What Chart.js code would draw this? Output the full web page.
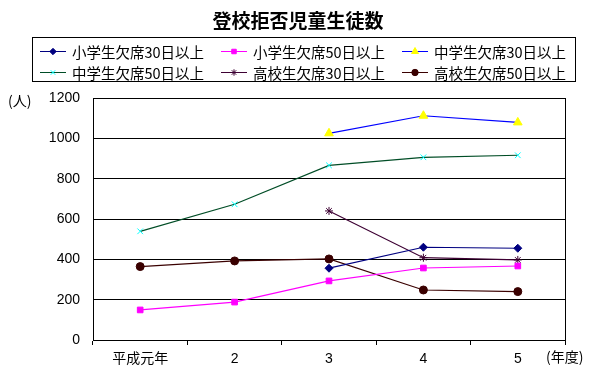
<!DOCTYPE html>
<html>
<head>
<meta charset="utf-8">
<script src="https://cdn.jsdelivr.net/npm/chart.js"></script>
<style>
  body { margin: 0; background: #fff; }
  #wrap { width: 596px; height: 374px; }
</style>
</head>
<body>
<div id="wrap"><canvas id="myChart" width="596" height="374"></canvas></div>
<script>
const labels = ['平成元年', '2', '3', '4', '5']
const yTicks = [0, 200, 400, 600, 800, 1000, 1200]

const elem30 = [null, null, 356, 460, 455]
const elem50 = [149, 188, 293, 357, 367]
const junior30 = [null, null, 1025, 1112, 1079]
const junior50 = [539, 673, 866, 906, 916]
const high30 = [null, null, 640, 408, 397]
const high50 = [364, 392, 402, 248, 240]

const font = "'Liberation Sans', 'Noto Sans CJK JP', sans-serif"
const jpFont = "'Noto Sans CJK JP', sans-serif"

const series = [
    {label: '小学生欠席30日以上', data: elem30, line: '#000080', fill: '#000080', style: 'rectRot', r: 4},
    {label: '小学生欠席50日以上', data: elem50, line: '#ff00ff', fill: '#ff00ff', style: 'rect', r: 4},
    {label: '中学生欠席30日以上', data: junior30, line: '#0000ff', fill: '#ffff00', style: 'triangle', r: 5},
    {label: '中学生欠席50日以上', data: junior50, line: '#004d26', fill: '#00ffff', style: 'crossRot', r: 4},
    {label: '高校生欠席30日以上', data: high30, line: '#3d0033', fill: '#3d0033', style: 'star', r: 4},
    {label: '高校生欠席50日以上', data: high50, line: '#3a0000', fill: '#3a0000', style: 'circle', r: 4},
]

// title, legend box and unit labels
const decor = {
    id: 'decor',
    afterDraw(chart) {
        const ctx = chart.ctx
        const area = chart.chartArea
        ctx.save()
        ctx.fillStyle = '#000'
        ctx.textBaseline = 'middle'
        ctx.textAlign = 'center'
        ctx.font = "bold 19px " + jpFont
        ctx.fillText('登校拒否児童生徒数', 298, 21)

        // right border of the plot
        ctx.strokeStyle = '#000'
        ctx.lineWidth = 1
        ctx.beginPath()
        ctx.moveTo(Math.round(area.right) + 0.5, area.top)
        ctx.lineTo(Math.round(area.right) + 0.5, area.bottom)
        ctx.stroke()

        // legend
        ctx.strokeRect(32.5, 37.5, 543, 44)
        ctx.font = "14.5px " + jpFont
        ctx.textAlign = 'left'
        series.forEach((s, i) => {
            const x = 40 + (i % 3) * 181
            const y = i < 3 ? 51 : 72
            ctx.strokeStyle = s.line
            ctx.lineWidth = 1
            ctx.beginPath()
            ctx.moveTo(x, y + 0.5)
            ctx.lineTo(x + 26, y + 0.5)
            ctx.stroke()
            ctx.fillStyle = s.fill
            ctx.strokeStyle = s.fill
            Chart.helpers.drawPoint(ctx, {pointStyle: s.style, radius: s.r * 0.8, borderWidth: 1}, x + 13, y + 0.5)
            ctx.fillStyle = '#000'
            ctx.fillText(s.label, x + 32, y + 1)
        })

        ctx.font = "14px " + jpFont
        ctx.fillText('(人)', 8, 101)
        ctx.fillText('(年度)', 546, 357)
        ctx.restore()
    }
}

new Chart(document.getElementById('myChart'), {
    type: 'line',
    data: {
        labels: labels,
        datasets: series.map(s => ({
            label: s.label,
            data: s.data,
            borderColor: s.line,
            borderWidth: 1.2,
            backgroundColor: s.fill,
            pointBackgroundColor: s.fill,
            pointBorderColor: s.fill,
            pointBorderWidth: 1,
            pointStyle: s.style,
            pointRadius: s.r,
            tension: 0,
            spanGaps: false
        }))
    },
    options: {
        responsive: false,
        animation: false,
        layout: {padding: {top: 98, right: 31, left: 0, bottom: 0}},
        plugins: {legend: {display: false}, title: {display: false}, tooltip: {enabled: false}},
        scales: {
            x: {
                offset: true,
                grid: {offset: true, drawOnChartArea: false, drawTicks: true, tickLength: 5, color: '#000'},
                border: {color: '#000', width: 1},
                ticks: {color: '#000', font: {size: 14, family: font}, padding: 6, maxRotation: 0},
                afterFit: s => { s.height = 34 }
            },
            y: {
                min: 0,
                max: 1200,
                afterBuildTicks: s => { s.ticks = yTicks.map(v => ({value: v})) },
                grid: {color: '#000', drawTicks: false},
                border: {color: '#000', width: 1},
                ticks: {color: '#000', font: {size: 14, family: font}, padding: 13, callback: v => String(v)},
                afterFit: s => { s.width = 93 }
            }
        }
    },
    plugins: [decor]
});
</script>
</body>
</html>
